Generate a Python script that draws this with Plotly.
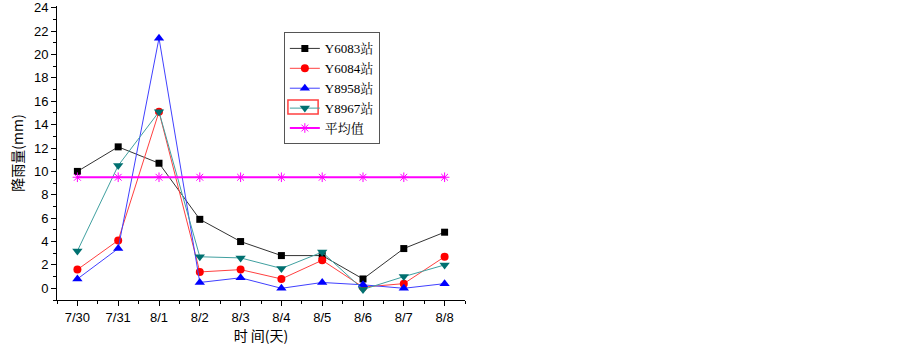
import plotly.graph_objects as go

dates = ["7/30", "7/31", "8/1", "8/2", "8/3", "8/4", "8/5", "8/6", "8/7", "8/8"]
y6083 = [10.0, 12.1, 10.7, 5.9, 4.0, 2.8, 2.8, 0.8, 3.4, 4.8]
y6084 = [1.6, 4.1, 15.1, 1.4, 1.6, 0.8, 2.4, 0.1, 0.4, 2.7]
y8958 = [0.8, 3.4, 21.4, 0.5, 0.9, 0.0, 0.5, 0.3, 0.0, 0.4]
y8967 = [3.2, 10.5, 15.1, 2.7, 2.6, 1.7, 3.1, -0.1, 1.0, 2.0]
mean_val = [9.5] * len(dates)
y_ticks = list(range(0, 25, 2))

xs = list(range(len(dates)))

fig = go.Figure()
series = [
    ("Y6083站", y6083, "#000000", "#333333", "square", 7),
    ("Y6084站", y6084, "#ff0000", "#ff4040", "circle", 8),
    ("Y8958站", y8958, "#0000ff", "#4040ff", "triangle-up", 9),
    ("Y8967站", y8967, "#007070", "#40a0a0", "triangle-down", 9),
]
for name, vals, mc, lc, sym, sz in series:
    fig.add_trace(go.Scatter(
        x=xs, y=vals, name=name, mode="lines+markers",
        line=dict(color=lc, width=1),
        marker=dict(symbol=sym, size=sz, color=mc),
    ))
fig.add_trace(go.Scatter(
    x=xs, y=mean_val, name="平均值", mode="lines+markers",
    line=dict(color="#ff00ff", width=2),
    marker=dict(symbol="asterisk-open", size=8, color="#ff00ff",
                line=dict(color="#ff00ff", width=1)),
))

# selection highlight box around the Y8967 legend sample
fig.add_shape(type="rect", xref="paper", yref="paper",
              x0=0.566, x1=0.640, y0=0.633, y1=0.680,
              line=dict(color="#ff4040", width=1.5), fillcolor="rgba(0,0,0,0)",
              layer="above")

fig.update_layout(
    width=903, height=348,
    margin=dict(l=57, r=438, t=6, b=48),
    paper_bgcolor="white", plot_bgcolor="white",
    font=dict(family="Liberation Sans, Noto Sans CJK SC", size=13, color="#000"),
    showlegend=True,
    legend=dict(
        x=0.556, y=0.91, xanchor="left", yanchor="top",
        bordercolor="#555", borderwidth=1, bgcolor="rgba(0,0,0,0)",
        font=dict(family="Liberation Serif, Noto Serif CJK SC, Noto Sans CJK SC", size=13),
        tracegroupgap=0, itemwidth=30,
    ),
    xaxis=dict(
        range=[-0.5, 9.5], tickmode="array", tickvals=xs, ticktext=dates,
        showgrid=False, zeroline=False, showline=True, linecolor="#000", linewidth=1,
        ticks="outside", ticklen=5, tickcolor="#000", automargin=False,
        minor=dict(tickvals=[i + 0.5 for i in range(-1, len(dates))], ticks="outside", ticklen=3, tickcolor="#000"),
        title=dict(text="时 间(天)", font=dict(size=14, family="Noto Sans CJK SC"), standoff=4),
        tickfont=dict(size=13),
    ),
    yaxis=dict(
        range=[-1, 24.15], tickmode="array", tickvals=y_ticks,
        showgrid=False, zeroline=False, showline=True, linecolor="#000", linewidth=1,
        ticks="outside", ticklen=5, tickcolor="#000", automargin=False,
        minor=dict(dtick=1, ticks="outside", ticklen=3, tickcolor="#000"),
        title=dict(text="降雨量(mm)", font=dict(size=14, family="Noto Sans CJK SC"), standoff=7),
        tickfont=dict(size=13),
    ),
)

fig.write_html("out.html", config={"displayModeBar": False},
               post_script="document.body.style.margin='0';")
